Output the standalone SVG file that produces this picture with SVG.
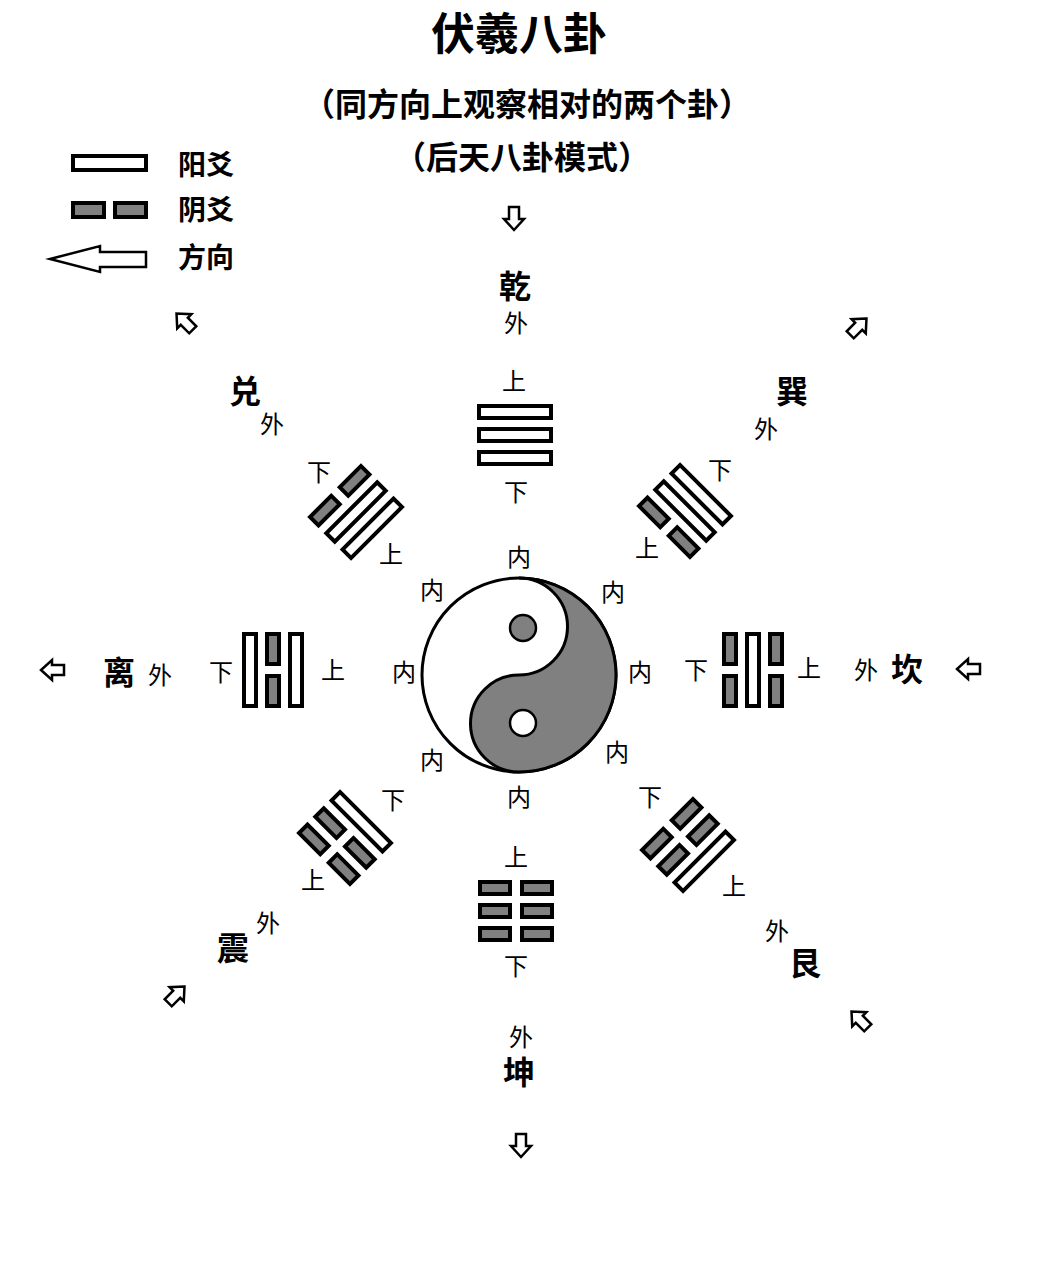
<svg xmlns="http://www.w3.org/2000/svg" xmlns:xlink="http://www.w3.org/1999/xlink" width="1040" height="1265" viewBox="0 0 1040 1265">
<style>
.t{font-family:"Liberation Sans","Noto Sans CJK SC",sans-serif;fill:#000;text-anchor:middle}
.big{font-size:32px;font-weight:bold}
.sm{font-size:24px}
.yang{fill:#fff;stroke:#000;stroke-width:4}
.yin{fill:#808080;stroke:#000;stroke-width:4}
.arr{fill:#fff;stroke:#000;stroke-width:2.5;stroke-linejoin:miter}
</style>
<defs>
<g id="Y"><rect class="yang" x="-36" y="-6" width="72" height="12"/></g>
<g id="N"><rect class="yin" x="-36" y="-6" width="30" height="12"/><rect class="yin" x="6" y="-6" width="30" height="12"/></g>
<path id="A" class="arr" d="M12,0 L1,-10 L1,-5 L-11,-5 L-11,5 L1,5 L1,10 Z"/>
</defs>
<rect width="1040" height="1265" fill="#fff"/>
<g id="title">
<text class="t" x="519" y="50" style="font-size:44px;font-weight:bold">伏羲八卦</text>
<text class="t big" x="527" y="116">（同方向上观察相对的两个卦）</text>
<text class="t big" x="522" y="169">（后天八卦模式）</text>
</g>
<g id="legend">
<rect class="yang" x="73" y="156" width="73" height="14"/>
<rect class="yin" x="73" y="203" width="31" height="14"/>
<rect class="yin" x="115" y="203" width="31" height="14"/>
<path class="arr" d="M50,259 L100,246 L100,252 L146,252 L146,267 L100,267 L100,272 Z"/>
<text class="t" x="206" y="175" style="font-size:28px;font-weight:bold">阳爻</text>
<text class="t" x="206" y="220" style="font-size:28px;font-weight:bold">阴爻</text>
<text class="t" x="206" y="268" style="font-size:28px;font-weight:bold">方向</text>
</g>
<g id="taiji">
<circle cx="519" cy="675" r="97" fill="#fff" stroke="#000" stroke-width="3"/>
<path d="M519,578 A97,97 0 0 1 519,772 A48.5,48.5 0 0 1 519,675 A48.5,48.5 0 0 0 519,578 Z" fill="#808080" stroke="#000" stroke-width="3"/>
<circle cx="523" cy="628" r="13" fill="#808080" stroke="#000" stroke-width="2.5"/>
<circle cx="523" cy="723" r="13" fill="#fff" stroke="#000" stroke-width="2.5"/>
</g>
<g id="qian"><g transform="translate(515,435)"><use xlink:href="#Y" y="-23"/><use xlink:href="#Y"/><use xlink:href="#Y" y="23"/></g>
<text class="t big" x="515" y="298">乾</text><text class="t sm" x="516" y="332">外</text><text class="t sm" x="514" y="390">上</text><text class="t sm" x="516" y="501">下</text></g>
<g id="kun"><g transform="translate(516,911) rotate(180)"><use xlink:href="#N" y="-23"/><use xlink:href="#N"/><use xlink:href="#N" y="23"/></g>
<text class="t big" x="519" y="1084">坤</text><text class="t sm" x="521" y="1046">外</text><text class="t sm" x="516" y="866">上</text><text class="t sm" x="516" y="975">下</text></g>
<g id="li"><g transform="translate(273,670) rotate(-90)"><use xlink:href="#Y" y="-23"/><use xlink:href="#N"/><use xlink:href="#Y" y="23"/></g>
<text class="t big" x="119" y="684">离</text><text class="t sm" x="160" y="684">外</text><text class="t sm" x="221" y="681">下</text><text class="t sm" x="333" y="679">上</text></g>
<g id="kan"><g transform="translate(753,670) rotate(90)"><use xlink:href="#N" y="-23"/><use xlink:href="#Y"/><use xlink:href="#N" y="23"/></g>
<text class="t big" x="907" y="681">坎</text><text class="t sm" x="866" y="679">外</text><text class="t sm" x="696" y="679">下</text><text class="t sm" x="809" y="677">上</text></g>
<g id="dui"><g transform="translate(356,512) rotate(-45)"><use xlink:href="#N" y="-23"/><use xlink:href="#Y"/><use xlink:href="#Y" y="23"/></g>
<text class="t big" x="245" y="403">兑</text><text class="t sm" x="272" y="433">外</text><text class="t sm" x="319" y="481">下</text><text class="t sm" x="391" y="563">上</text></g>
<g id="xun"><g transform="translate(685,511) rotate(45)"><use xlink:href="#Y" y="-23"/><use xlink:href="#Y"/><use xlink:href="#N" y="23"/></g>
<text class="t big" x="792" y="403">巽</text><text class="t sm" x="766" y="438">外</text><text class="t sm" x="720" y="479">下</text><text class="t sm" x="647" y="557">上</text></g>
<g id="zhen"><g transform="translate(345,838) rotate(-135)"><use xlink:href="#N" y="-23"/><use xlink:href="#N"/><use xlink:href="#Y" y="23"/></g>
<text class="t big" x="233" y="960">震</text><text class="t sm" x="268" y="932">外</text><text class="t sm" x="313" y="889">上</text><text class="t sm" x="393" y="809">下</text></g>
<g id="gen"><g transform="translate(688,845) rotate(135)"><use xlink:href="#Y" y="-23"/><use xlink:href="#N"/><use xlink:href="#N" y="23"/></g>
<text class="t big" x="805" y="975">艮</text><text class="t sm" x="777" y="940">外</text><text class="t sm" x="650" y="806">下</text><text class="t sm" x="734" y="895">上</text></g>
<g id="nei">
<text class="t sm" x="519" y="566">内</text><text class="t sm" x="432" y="599">内</text><text class="t sm" x="613" y="601">内</text><text class="t sm" x="404" y="681">内</text><text class="t sm" x="640" y="681">内</text><text class="t sm" x="432" y="769">内</text><text class="t sm" x="617" y="761">内</text><text class="t sm" x="519" y="806">内</text>
</g>
<g id="connectors">
<use xlink:href="#A" transform="translate(514,218) rotate(90)"/>
<use xlink:href="#A" transform="translate(521,1145) rotate(90)"/>
<use xlink:href="#A" transform="translate(53,670) rotate(180)"/>
<use xlink:href="#A" transform="translate(969,669) rotate(180)"/>
<use xlink:href="#A" transform="translate(185,322) rotate(225)"/>
<use xlink:href="#A" transform="translate(860,1020) rotate(225)"/>
<use xlink:href="#A" transform="translate(858,327) rotate(-45)"/>
<use xlink:href="#A" transform="translate(176,995) rotate(-45)"/>
</g>
</svg>
